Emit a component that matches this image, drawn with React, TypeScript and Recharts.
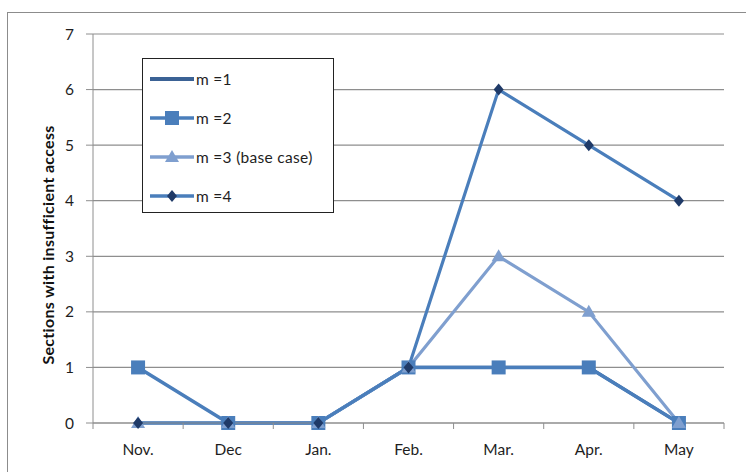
import { LineChart, Line, XAxis, YAxis, CartesianGrid, Legend } from 'recharts'

const months = ['Nov.', 'Dec', 'Jan.', 'Feb.', 'Mar.', 'Apr.', 'May']
const m1 = [0, 0, 0, 1, 1, 1, 0]
const m2 = [1, 0, 0, 1, 1, 1, 0]
const m3 = [0, 0, 0, 1, 3, 2, 0]
const m4 = [0, 0, 0, 1, 6, 5, 4]
const seriesNames = ['m=1', 'm=2', 'm=3 (base case)', 'm=4']
const yTicks = [0, 1, 2, 3, 4, 5, 6, 7]

const data = months.map((month, i) => ({ month, m1: m1[i], m2: m2[i], m3: m3[i], m4: m4[i] }))

const FONT = 'Lato, "Liberation Sans", sans-serif'
const GRID = '#8e8e8e'
const C1 = '#3b6295'
const C2 = '#4a7ebb'
const C3 = '#7f9fcf'
const C4 = '#4a7ebb'
const C4_MARK = '#1f3a68'

const square = (cx: number, cy: number, key?: any) => (
  <rect key={key} x={cx - 7} y={cy - 7} width={14} height={14} fill={C2} />
)
const triangle = (cx: number, cy: number, key?: any) => (
  <polygon key={key} points={`${cx},${cy - 7} ${cx + 7},${cy + 5} ${cx - 7},${cy + 5}`} fill={C3} />
)
const diamond = (cx: number, cy: number, key?: any) => (
  <polygon key={key} points={`${cx},${cy - 6} ${cx + 5},${cy} ${cx},${cy + 6} ${cx - 5},${cy}`} fill={C4_MARK} />
)

const markers: Record<string, ((cx: number, cy: number, key?: any) => JSX.Element) | null> = {
  m1: null,
  m2: square,
  m3: triangle,
  m4: diamond,
}
const lineColors: Record<string, string> = { m1: C1, m2: C2, m3: C3, m4: C4 }

const MonthTick = (props: any) => {
  const { x, y, payload, index } = props
  const off = payload.offset ?? 45
  return (
    <g>
      <line x1={x - off} y1={y} x2={x - off} y2={y + 6} stroke={GRID} />
      {index === months.length - 1 && <line x1={x + off} y1={y} x2={x + off} y2={y + 6} stroke={GRID} />}
      <text x={x} y={y + 32} textAnchor="middle" fontFamily={FONT} fontSize={15.5} fill="#1e1e1e">
        {payload.value}
      </text>
    </g>
  )
}

const LegendBox = () => {
  const keys = ['m1', 'm2', 'm3', 'm4']
  return (
    <div
      style={{
        width: 192,
        height: 155,
        boxSizing: 'border-box',
        border: '1.5px solid #222',
        background: '#fff',
        position: 'relative',
        fontFamily: FONT,
        fontSize: 15.5,
        color: '#1e1e1e',
      }}
    >
      {keys.map((k, i) => {
        const mk = markers[k]
        return (
          <div key={k} style={{ position: 'absolute', left: 6, top: 11 + i * 39, display: 'flex', alignItems: 'center', height: 18 }}>
            <svg width={46} height={18} style={{ display: 'block' }}>
              <line x1={1} y1={9} x2={45} y2={9} stroke={lineColors[k]} strokeWidth={k === 'm1' ? 4 : 3.5} />
              {mk && mk(23, 9)}
            </svg>
            <span style={{ marginLeft: 1, whiteSpace: 'nowrap', letterSpacing: 0.3 }}>{seriesNames[i].replace('=', ' =')}</span>
          </div>
        )
      })}
    </div>
  )
}

export default function App() {
  return (
    <div style={{ position: 'absolute', left: 0, top: 0, width: 746, height: 472, overflow: 'hidden', background: '#fff' }}>
      <div style={{ position: 'absolute', left: 7, top: 12, width: 780, height: 500, border: '1px solid #8c8c8c' }} />
      <LineChart
        width={746}
        height={472}
        data={data}
        margin={{ top: 34, right: 22, bottom: 19, left: 20 }}
        style={{ position: 'absolute', left: 0, top: 0 }}
      >
        <CartesianGrid horizontal vertical={false} stroke={GRID} strokeWidth={1.2} />
        <XAxis
          dataKey="month"
          scale="band"
          height={30}
          stroke={GRID}
          tickLine={false}
          tickSize={0}
          tickMargin={0}
          tick={<MonthTick />}
          interval={0}
        />
        <YAxis
          width={73}
          domain={[0, 7]}
          ticks={yTicks}
          interval={0}
          stroke={GRID}
          tickSize={7}
          tickMargin={12}
          tick={{ fill: '#1e1e1e', fontFamily: FONT, fontSize: 15.5 }}
          label={{
            content: () => (
              <text
                x={0}
                y={0}
                transform="translate(47,245) rotate(-90)"
                textAnchor="middle"
                dominantBaseline="central"
                fontFamily={FONT}
                fontSize={16}
                fontWeight="bold"
                letterSpacing={0.3}
                fill="#111"
              >
                Sections with insufficient access
              </text>
            ),
          }}
        />
        <Legend
          layout="vertical"
          align="center"
          verticalAlign="middle"
          wrapperStyle={{ left: 142, top: 58, width: 192, height: 155 }}
          content={() => <LegendBox />}
        />
        {['m1', 'm2', 'm3', 'm4'].map((k, i) => {
          const mk = markers[k]
          return (
            <Line
              key={k}
              dataKey={k}
              name={seriesNames[i]}
              type="linear"
              stroke={lineColors[k]}
              strokeWidth={k === 'm2' ? 3.5 : 3.2}
              dot={mk ? (p: any) => mk(p.cx, p.cy, p.key ?? `${k}-${p.index}`) : false}
              activeDot={false}
              isAnimationActive={false}
            />
          )
        })}
      </LineChart>
    </div>
  )
}
